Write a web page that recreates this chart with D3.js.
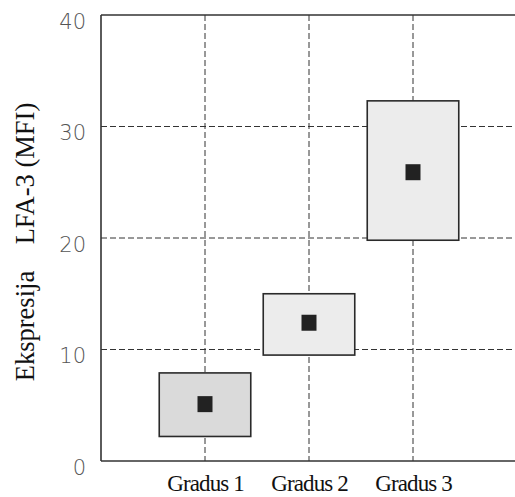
<!DOCTYPE html>
<html>
<head>
<meta charset="utf-8">
<script src="https://cdn.jsdelivr.net/npm/d3@7"></script>
<style>
  html, body { margin: 0; padding: 0; background: #fff; }
  svg { display: block; }
</style>
</head>
<body>
<svg id="chart" width="515" height="497"></svg>
<script>
const categories = ["Gradus 1", "Gradus 2", "Gradus 3"];
const boxLow = [2.2, 9.5, 19.8];
const boxHigh = [7.9, 15.0, 32.3];
const means = [5.1, 12.4, 25.9];
const yTicks = [0, 10, 20, 30, 40];
const yTitle = "Ekspresija    LFA-3 (MFI)";

(function () {
const svg = d3.select("#chart");
const pLeft = 101, pRight = 517, pTop = 15, pBottom = 461;

const x = d3.scaleLinear().domain([0, categories.length + 1]).range([pLeft, pRight]);
const y = d3.scaleLinear().domain([0, 40]).range([pBottom, pTop]);
const boxHalf = 0.44;
const fills = ["#dadada", "#ececec", "#ececec"];

// grid lines
const grid = svg.append("g");
grid.selectAll("line.h").data(yTicks.filter(t => t > 0 && t < 40)).enter()
  .append("line")
  .attr("x1", pLeft).attr("x2", pRight)
  .attr("y1", d => y(d)).attr("y2", d => y(d))
  .attr("stroke", "#333").attr("stroke-width", 1)
  .attr("stroke-dasharray", "6,3");
grid.selectAll("line.v").data(categories).enter()
  .append("line")
  .attr("x1", (d, i) => x(i + 1)).attr("x2", (d, i) => x(i + 1))
  .attr("y1", pTop).attr("y2", pBottom)
  .attr("stroke", "#333").attr("stroke-width", 1)
  .attr("stroke-dasharray", "6,3");

// frame
svg.append("line").attr("x1", pLeft).attr("x2", pRight).attr("y1", pTop).attr("y2", pTop)
  .attr("stroke", "#333").attr("stroke-width", 1.6);
svg.append("line").attr("x1", pLeft).attr("x2", pRight).attr("y1", pBottom).attr("y2", pBottom)
  .attr("stroke", "#333").attr("stroke-width", 1.6);
svg.append("line").attr("x1", pLeft).attr("x2", pLeft).attr("y1", pTop).attr("y2", pBottom)
  .attr("stroke", "#333").attr("stroke-width", 1.6);

// boxes
svg.append("g").selectAll("rect").data(categories).enter()
  .append("rect")
  .attr("x", (d, i) => x(i + 1 - boxHalf))
  .attr("width", (d, i) => x(i + 1 + boxHalf) - x(i + 1 - boxHalf))
  .attr("y", (d, i) => y(boxHigh[i]))
  .attr("height", (d, i) => y(boxLow[i]) - y(boxHigh[i]))
  .attr("fill", (d, i) => fills[i])
  .attr("stroke", "#2a2a2a").attr("stroke-width", 1.6);

// mean markers
const ms = 15, mh = 16;
svg.append("g").selectAll("rect").data(means).enter()
  .append("rect")
  .attr("x", (d, i) => x(i + 1) - ms / 2)
  .attr("y", d => y(d) - mh / 2)
  .attr("width", ms).attr("height", mh)
  .attr("fill", "#222");

// y tick labels
const yAxis = d3.axisLeft(y).tickValues(yTicks).tickSize(0).tickPadding(15);
const ya = svg.append("g").attr("transform", `translate(${pLeft},0)`).call(yAxis);
ya.select(".domain").remove();
ya.selectAll("text")
  .attr("dy", "0.62em")
  .attr("font-family", "'DejaVu Sans', sans-serif")
  .attr("font-weight", 200)
  .attr("font-size", 21)
  .attr("fill", "#555");

// x category labels
const xAxis = d3.axisBottom(x).tickValues([1, 2, 3]).tickFormat((d) => categories[d - 1]).tickSize(0).tickPadding(14);
const xa = svg.append("g").attr("transform", `translate(0,${pBottom})`).call(xAxis);
xa.select(".domain").remove();
xa.selectAll("text")
  .attr("font-family", "'Liberation Serif', 'Times New Roman', serif")
  .attr("font-size", 23)
  .attr("letter-spacing", "-0.9")
  .attr("fill", "#111");

// y title
svg.append("text")
  .attr("transform", `translate(34,242) rotate(-90)`)
  .attr("text-anchor", "middle")
  .attr("font-family", "'Liberation Serif', 'Times New Roman', serif")
  .attr("font-size", 26.5)
  .attr("fill", "#111")
  .style("white-space", "pre")
  .text(yTitle);
})();
</script>
</body>
</html>
